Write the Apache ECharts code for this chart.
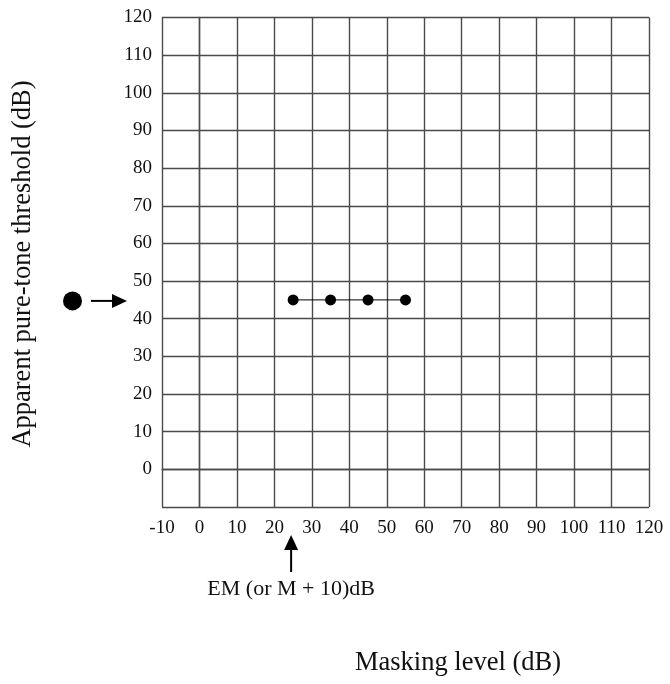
<!DOCTYPE html>
<html>
<head>
<meta charset="utf-8">
<script src="https://cdn.jsdelivr.net/npm/echarts@6/dist/echarts.min.js"></script>
<style>html,body{margin:0;padding:0;background:#fff;}#c{width:670px;height:684px;}</style>
</head>
<body>
<div id="c"></div>
<script>
const maskingLevels = [25, 35, 45, 55];
const thresholds = [45, 45, 45, 45];
const axisMin = -10, axisMax = 120, axisStep = 10;
const initialThreshold = 45;
const emLevel = 25;
const xName = 'Masking level (dB)';
const yName = 'Apparent pure-tone threshold (dB)';
const emText = 'EM (or M + 10)dB';

const FONT = '"Liberation Serif", "Times New Roman", serif';
const chart = echarts.init(document.getElementById('c'), null, {renderer: 'canvas'});
const gridLine = {show: true, lineStyle: {color: '#4a4a4a', width: 1.4}};
chart.setOption({
  animation: false,
  grid: {left: 162, right: 21, top: 17.5, bottom: 177},
  xAxis: {
    type: 'value', min: axisMin, max: axisMax, interval: axisStep,
    axisLine: {show: true, lineStyle: {color: '#4a4a4a', width: 1.4}},
    axisTick: {show: false},
    splitLine: gridLine,
    axisLabel: {color: '#111', fontFamily: FONT, fontSize: 19, margin: 12}
  },
  yAxis: {
    type: 'value', min: axisMin, max: axisMax, interval: axisStep,
    axisLine: {show: true, lineStyle: {color: '#4a4a4a', width: 1.4}},
    axisTick: {show: false},
    splitLine: gridLine,
    axisLabel: {color: '#111', fontFamily: FONT, fontSize: 19, margin: 10,
      formatter: v => v === axisMin ? '' : String(v)}
  },
  series: [{
    type: 'line',
    data: maskingLevels.map((x, i) => [x, thresholds[i]]),
    symbol: 'circle', symbolSize: 11,
    itemStyle: {color: '#000'},
    lineStyle: {color: '#000', width: 1}
  }]
});

const yp = chart.convertToPixel({gridIndex: 0}, [0, initialThreshold])[1];
const xp = chart.convertToPixel({gridIndex: 0}, [emLevel, 0])[0];
chart.setOption({
  graphic: [
    {type: 'circle', shape: {cx: 72.5, cy: yp + 1, r: 9.5}, style: {fill: '#000'}},
    {type: 'line', shape: {x1: 91, y1: yp + 1, x2: 115, y2: yp + 1}, style: {stroke: '#000', lineWidth: 2}},
    {type: 'polygon', shape: {points: [[127, yp + 1], [112, yp - 6], [112, yp + 8]]}, style: {fill: '#000'}},
    {type: 'line', shape: {x1: xp - 2, y1: 548, x2: xp - 2, y2: 572}, style: {stroke: '#000', lineWidth: 2}},
    {type: 'polygon', shape: {points: [[xp - 2, 535], [xp - 9, 550], [xp + 5, 550]]}, style: {fill: '#000'}},
    {type: 'text', x: xp - 2, y: 589, style: {text: emText, font: '22px ' + FONT, fill: '#111', align: 'center', verticalAlign: 'middle'}},
    {type: 'text', x: 458, y: 663, style: {text: xName, font: '26.5px ' + FONT, fill: '#111', align: 'center', verticalAlign: 'middle'}},
    {type: 'text', x: 23, y: 264, rotation: Math.PI / 2, style: {text: yName, font: '26.5px ' + FONT, fill: '#111', align: 'center', verticalAlign: 'middle'}}
  ]
});
</script>
</body>
</html>
